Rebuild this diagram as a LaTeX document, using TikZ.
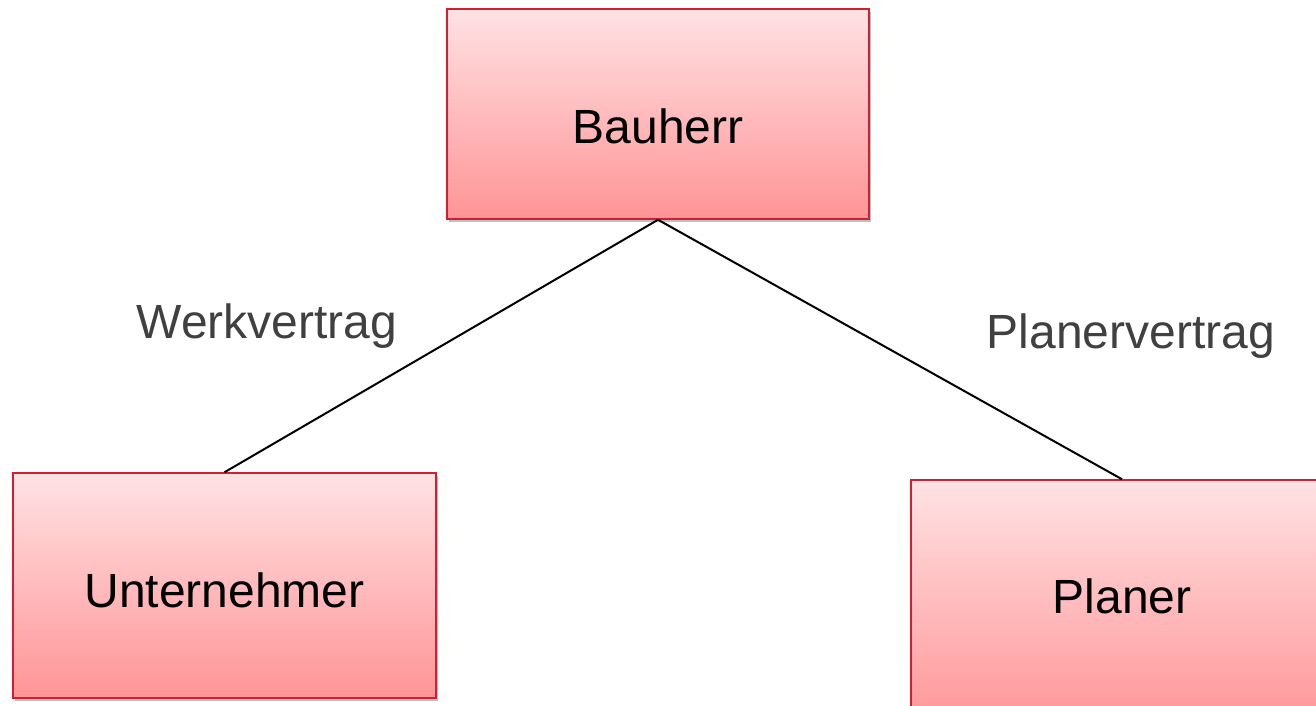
\documentclass[tikz,border=0pt]{standalone}
\usepackage{fontspec}
\setmainfont{Liberation Sans}
\usetikzlibrary{shadows}
\definecolor{boxtop}{RGB}{255,226,228}
\definecolor{boxbot}{RGB}{255,148,150}
\definecolor{boxline}{RGB}{210,30,50}
\definecolor{labelgray}{RGB}{64,64,64}
\tikzset{
  rolebox/.style={draw=boxline, line width=1.5pt, rectangle, top color=boxtop, bottom color=boxbot,
    drop shadow={shadow xshift=1.5pt, shadow yshift=-2.5pt, opacity=0.25, fill=black},
    inner sep=0pt},
  roletext/.style={anchor=base, font=\fontsize{48}{52}\selectfont, text=black, inner sep=0pt},
  contract/.style={anchor=base, font=\fontsize{48}{52}\selectfont, text=labelgray, inner sep=0pt},
  link/.style={draw=black, line width=2pt}
}
\begin{document}
\begin{tikzpicture}[x=1pt,y=-1pt]
\useasboundingbox (0,0) rectangle (1316,705);
\clip (0,0) rectangle (1316,705);
\node[rolebox, minimum width=422pt, minimum height=210pt] (bau) at (658,114) {};
\node[rolebox, minimum width=423pt, minimum height=225pt] (unt) at (224.5,585.5) {};
\node[rolebox, minimum width=422pt, minimum height=250pt] (pla) at (1122,605) {};
\node[roletext] (baut) at (658,143) {Bauherr};
\node[roletext] (untt) at (224.5,607) {Unternehmer};
\node[roletext] (plat) at (1122,613) {Planer};
\draw[link] (bau.south) -- (unt.north);
\draw[link] (bau.south) -- (pla.north);
\node[contract] (wv) at (267,338) {Werkvertrag};
\node[contract] (pv) at (1131,348) {Planervertrag};
\end{tikzpicture}
\end{document}
